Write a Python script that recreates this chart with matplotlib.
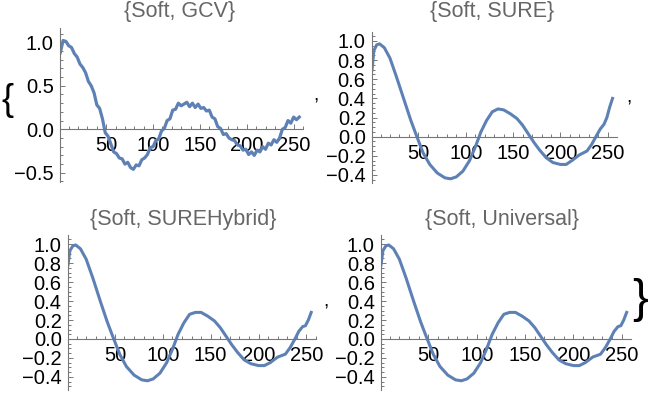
import matplotlib
matplotlib.use("Agg")
import matplotlib.pyplot as plt
from matplotlib.ticker import MultipleLocator, FuncFormatter

plt.rcParams['font.family'] = ['Liberation Sans', 'DejaVu Sans']

# {Soft, GCV} - noisy, every 3rd sample
gcv_x = list(range(1, 257, 3))
gcv_y = [0.88, 1.02, 1.01, 0.96, 0.94, 0.87, 0.83, 0.75, 0.71, 0.65,
         0.55, 0.50, 0.42, 0.28, 0.24, 0.12, -0.04, -0.08, -0.17, -0.26,
         -0.28, -0.33, -0.34, -0.40, -0.38, -0.44, -0.46, -0.41, -0.42, -0.35,
         -0.33, -0.29, -0.21, -0.20, -0.13, -0.11, -0.02, 0.01, 0.10, 0.12,
         0.22, 0.23, 0.30, 0.27, 0.29, 0.31, 0.26, 0.30, 0.25, 0.29,
         0.24, 0.25, 0.21, 0.22, 0.14, 0.12, 0.03, 0.01, -0.06, -0.05,
         -0.10, -0.12, -0.13, -0.18, -0.19, -0.24, -0.23, -0.29, -0.26, -0.30,
         -0.24, -0.26, -0.20, -0.23, -0.16, -0.18, -0.12, -0.15, -0.10, 0.00,
         0.02, 0.10, 0.07, 0.14, 0.11, 0.14]

# {Soft, SURE}
sure_x = [1, 3, 6, 9, 14, 20, 27, 35, 42, 48, 55, 62, 70, 78, 84, 90, 97, 104,
          110, 116, 122, 128, 134, 140, 147, 154, 160, 166, 172, 178, 185, 192,
          200, 206, 212, 220, 228, 233, 238, 242, 246, 249, 252, 255]
sure_y = [0.70, 0.90, 0.96, 0.97, 0.93, 0.82, 0.62, 0.38, 0.17, 0.01, -0.17,
          -0.29, -0.38, -0.43, -0.44, -0.42, -0.36, -0.25, -0.11, 0.05, 0.17,
          0.26, 0.29, 0.28, 0.24, 0.19, 0.12, 0.03, -0.06, -0.14, -0.22, -0.27,
          -0.29, -0.29, -0.25, -0.19, -0.15, -0.08, 0.01, 0.08, 0.13, 0.20,
          0.31, 0.40]

# {Soft, SUREHybrid}
hyb_x = [1, 3, 6, 9, 14, 20, 27, 35, 42, 48, 55, 62, 70, 78, 84, 90, 97, 104,
         110, 116, 122, 128, 134, 140, 147, 154, 160, 166, 172, 178, 185, 192,
         200, 206, 212, 220, 228, 233, 238, 242, 246, 249, 252, 255]
hyb_y = [0.78, 0.93, 0.98, 0.99, 0.95, 0.84, 0.64, 0.39, 0.18, 0.02, -0.16,
         -0.29, -0.38, -0.43, -0.44, -0.42, -0.36, -0.25, -0.11, 0.05, 0.17,
         0.26, 0.28, 0.28, 0.24, 0.19, 0.12, 0.03, -0.06, -0.14, -0.22, -0.26,
         -0.28, -0.28, -0.25, -0.19, -0.16, -0.09, 0.0, 0.08, 0.13, 0.14,
         0.20, 0.28]

# {Soft, Universal}
uni_x = [1, 3, 6, 9, 14, 20, 27, 35, 42, 48, 55, 62, 70, 78, 84, 90, 97, 104,
         110, 116, 122, 128, 134, 140, 147, 154, 160, 166, 172, 178, 185, 192,
         200, 206, 212, 220, 228, 233, 238, 242, 246, 249, 252, 255]
uni_y = [0.78, 0.93, 0.98, 0.99, 0.95, 0.84, 0.64, 0.39, 0.18, 0.02, -0.16,
         -0.29, -0.38, -0.43, -0.44, -0.42, -0.36, -0.25, -0.11, 0.05, 0.17,
         0.26, 0.28, 0.28, 0.24, 0.19, 0.12, 0.03, -0.06, -0.14, -0.22, -0.26,
         -0.28, -0.28, -0.25, -0.19, -0.16, -0.09, 0.0, 0.08, 0.13, 0.14,
         0.20, 0.28]

titles = ["{Soft, GCV}", "{Soft, SURE}", "{Soft, SUREHybrid}", "{Soft, Universal}"]

W, H = 651, 395
line_col = '#5e81b5'
axis_col = '#777777'

minus_fmt = FuncFormatter(lambda v, pos: ('%.1f' % v).replace('-', '\u2212'))


def make_axes(fig, left, right, top, bottom, xlim, ylim, yticks, yminor):
    ax = fig.add_axes([left / W, 1 - bottom / H, (right - left) / W, (bottom - top) / H])
    ax.set_xlim(*xlim)
    ax.set_ylim(*ylim)
    for s in ['top', 'right']:
        ax.spines[s].set_visible(False)
    ax.spines['bottom'].set_position(('data', 0))
    ax.spines['left'].set_position(('data', xlim[0]))
    for s in ['bottom', 'left']:
        ax.spines[s].set_color(axis_col)
        ax.spines[s].set_linewidth(0.8)
    ax.set_xticks([50, 100, 150, 200, 250])
    ax.xaxis.set_minor_locator(MultipleLocator(10))
    ax.set_yticks(yticks)
    ax.yaxis.set_minor_locator(MultipleLocator(yminor))
    ax.yaxis.set_major_formatter(minus_fmt)
    ax.tick_params(which='both', direction='in', color=axis_col, width=0.7)
    ax.tick_params(which='major', length=3.5, labelsize=14.5, labelcolor='black')
    ax.tick_params(which='minor', length=2)
    ax.tick_params(axis='x', pad=5)
    ax.tick_params(axis='y', pad=4.5)
    ax.patch.set_alpha(0)
    return ax


fig = plt.figure(figsize=(W / 100, H / 100), dpi=100)

ticks_a = [-0.5, 0.0, 0.5, 1.0]
ticks_b = [-0.4, -0.2, 0.0, 0.2, 0.4, 0.6, 0.8, 1.0]

ax1 = make_axes(fig, 60, 303, 28, 182, (0.7, 260), (-0.606, 1.164), ticks_a, 0.1)
ax1.plot(gcv_x, gcv_y, color=line_col, lw=2.3)

ax2 = make_axes(fig, 372, 617, 31.7, 183.3, (1, 259.7), (-0.487, 1.097), ticks_b, 0.05)
ax2.plot(sure_x, sure_y, color=line_col, lw=2.2)

ax3 = make_axes(fig, 68, 316, 235, 390, (1, 260), (-0.537, 1.095), ticks_b, 0.05)
ax3.plot(hyb_x, hyb_y, color=line_col, lw=2.2)

ax4 = make_axes(fig, 381, 631, 235, 390, (1, 259.5), (-0.537, 1.095), ticks_b, 0.05)
ax4.plot(uni_x, uni_y, color=line_col, lw=2.2)

# titles
title_pos = [(180, 12), (492, 12), (183, 220), (502, 220)]
for t, (x, y) in zip(titles, title_pos):
    fig.text(x / W, 1 - y / H, t, ha='center', va='center', fontsize=15.5, color='#666666')

# list braces and commas
fig.text(7 / W, 1 - 100 / H, '{', ha='center', va='center', fontsize=26, color='black')
fig.text(640 / W, 1 - 300 / H, '}', ha='center', va='center', fontsize=34, color='black')
for x, y in [(316, 96), (629, 98), (326, 302)]:
    fig.text(x / W, 1 - y / H, ',', ha='center', va='center', fontsize=14, color='black')

fig.savefig('out.png', dpi=100)
